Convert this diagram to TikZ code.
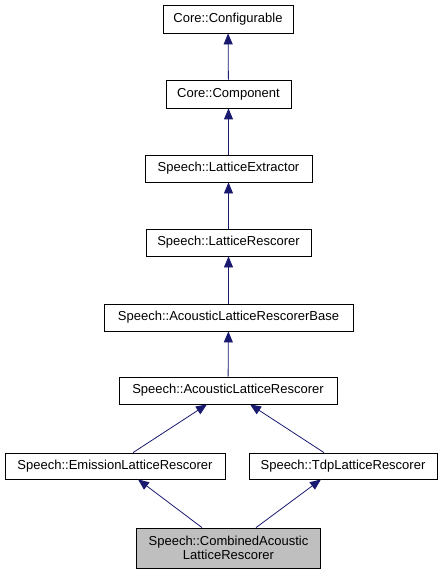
\documentclass[tikz,border=0pt]{standalone}
\usepackage{fontspec}
\setmainfont{Liberation Sans}
\usetikzlibrary{arrows.meta}
\definecolor{edgeblue}{HTML}{191970}
\definecolor{leafgray}{HTML}{BFBFBF}
\tikzset{
  cls/.style = {draw, line width = 0.8pt, minimum height = 27pt, inner sep = 0pt,
                font = \fontsize{13}{14}\selectfont},
  inherit/.style = {draw = edgeblue, line width = 0.8pt,
                    -{Triangle[length = 11pt, width = 9pt]}, fill = none},
}
\begin{document}
\begin{tikzpicture}[x = 1pt, y = -1pt]
            \useasboundingbox (0,0) rectangle (443,575);
            \node[cls, minimum width = 130pt, minimum height = 28pt] (conf) at (228,19) {Core::Configurable};
            \node[cls, minimum width = 125pt, minimum height = 28pt] (comp) at (228.5,94) {Core::Component};
            \node[cls, minimum width = 167pt] (extr) at (228.5,168.5) {Speech::LatticeExtractor};
            \node[cls, minimum width = 165pt] (resc) at (228.5,242.5) {Speech::LatticeRescorer};
            \node[cls, minimum width = 249pt] (base) at (228.5,317.5) {Speech::AcousticLatticeRescorerBase};
            \node[cls, minimum width = 218pt] (acou) at (228,390.5) {Speech::AcousticLatticeRescorer};
            \node[cls, minimum width = 220pt, minimum height = 26pt] (emis) at (115,466) {Speech::EmissionLatticeRescorer};
            \node[cls, minimum width = 188pt, minimum height = 26pt] (tdp) at (343,466) {Speech::TdpLatticeRescorer};
            \node[cls, fill = leafgray, minimum width = 184pt, minimum height = 40pt, align = center] (comb) at (228.5,548)
                {Speech::CombinedAcoustic\\LatticeRescorer};
            % inheritance edges, child to parent
            \draw[inherit] (comp) -- (conf);
            \draw[inherit] (extr) -- (comp);
            \draw[inherit] (resc) -- (extr);
            \draw[inherit] (base) -- (resc);
            \draw[inherit] (acou) -- (base);
            \draw[inherit] ([xshift = 18pt]emis.north) -- ([xshift = -21pt]acou.south);
            \draw[inherit] ([xshift = -19pt]tdp.north) -- ([xshift = 22pt]acou.south);
            \draw[inherit] ([xshift = -26.5pt]comb.north) -- ([xshift = 23pt]emis.south);
            \draw[inherit] ([xshift = 27.5pt]comb.north) -- ([xshift = -22pt]tdp.south);
        \end{tikzpicture}
\end{document}
